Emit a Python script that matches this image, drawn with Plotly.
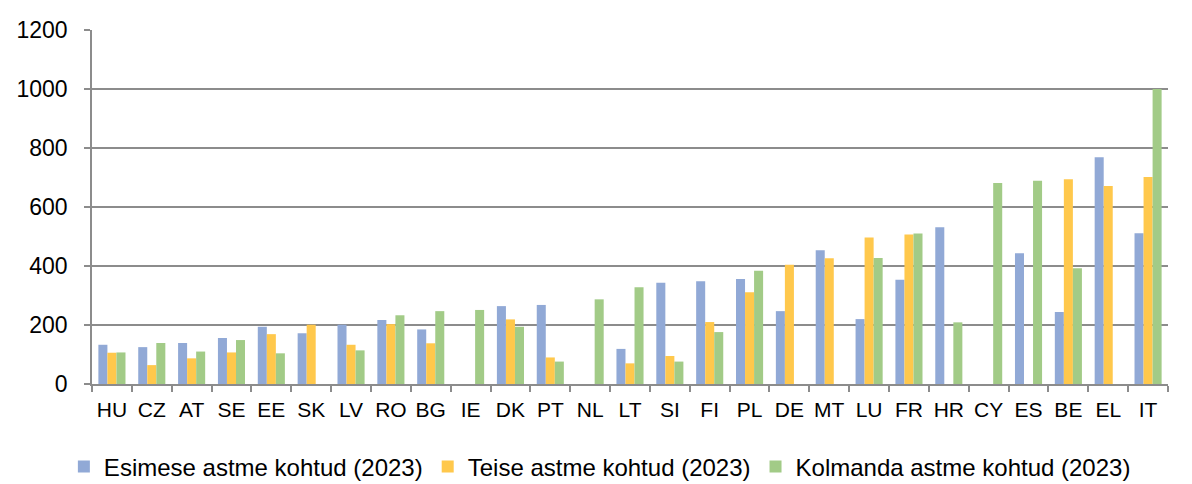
import plotly.graph_objects as go

countries = ["HU", "CZ", "AT", "SE", "EE", "SK", "LV", "RO", "BG", "IE", "DK", "PT", "NL", "LT",
             "SI", "FI", "PL", "DE", "MT", "LU", "FR", "HR", "CY", "ES", "BE", "EL", "IT"]
first_inst = [133, 125, 139, 156, 194, 172, 201, 217, 185, None, 264, 268, None, 119,
              343, 348, 356, 247, 453, 220, 353, 531, None, 443, 244, 769, 511]
second_inst = [106, 64, 87, 107, 169, 201, 133, 203, 138, None, 219, 90, None, 70,
               95, 210, 311, 404, 426, 497, 507, None, None, None, 694, 671, 702]
third_inst = [107, 139, 110, 149, 104, None, 114, 233, 247, 251, 194, 76, 287, 328,
              76, 176, 384, None, None, 427, 510, 209, 681, 689, 392, None, 1000]

names = ["Esimese astme kohtud (2023)", "Teise astme kohtud (2023)", "Kolmanda astme kohtud (2023)"]
colors = ["#91A9D6", "#FFC84C", "#A2CB87"]

fig = go.Figure()
for name, vals, col in zip(names, [first_inst, second_inst, third_inst], colors):
    fig.add_trace(go.Bar(x=countries, y=vals, name=name, marker_color=col,
                         marker_line_width=0))

# page body adds an 8px offset, margins compensate for it
fig.update_layout(
    width=1192, height=484,
    margin=dict(l=84, r=32, t=22, b=108, autoexpand=False),
    paper_bgcolor="white", plot_bgcolor="white",
    font=dict(family="Liberation Sans, Arial", size=21, color="#000000"),
    barmode="group", bargap=0.32, bargroupgap=0,
    legend=dict(orientation="h", x=0.472, xanchor="center", y=-0.234, yanchor="middle",
                font=dict(size=24), itemwidth=30, tracegroupgap=0),
)
fig.update_yaxes(range=[0, 1200], dtick=200, showgrid=True, gridcolor="#8C8C8C",
                 gridwidth=1.5, showline=True, linecolor="#8C8C8C", linewidth=1.5,
                 zeroline=False, ticks="outside", ticklen=6, tickcolor="#8C8C8C",
                 tickwidth=1.5, tickfont=dict(size=23), ticklabelstandoff=12)
fig.update_xaxes(showline=True, linecolor="#8C8C8C", linewidth=1.5, ticks="outside",
                 tickson="boundaries", ticklen=6, tickcolor="#8C8C8C", tickwidth=1.5,
                 tickangle=0, tickfont=dict(size=21), ticklabelstandoff=6)

fig.write_html("out.html")
